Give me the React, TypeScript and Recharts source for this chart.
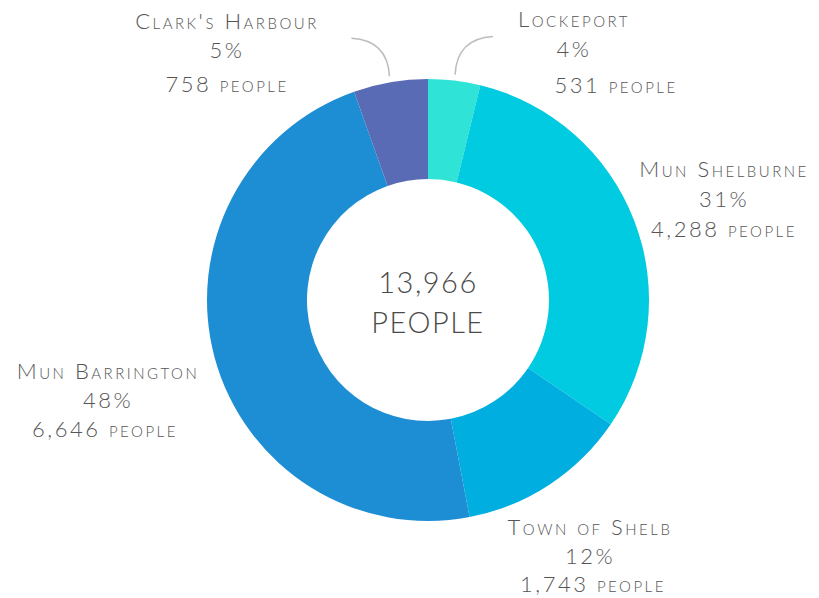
import { Cell, Pie, PieChart } from "recharts";

const towns = ["Lockeport", "Mun Shelburne", "Town of Shelb", "Mun Barrington", "Clark's Harbour"];
const people = [531, 4288, 1743, 6646, 758];
const colors = ["#2fe4d7", "#00cbe0", "#00aee0", "#1e8ed4", "#5a6bb5"];

// label placement relative to the donut centre: [x, y of first baseline, gap2, gap3, dx of last line]
const labelLayout = [
    [146, -273, 30, 66, 42],
    [296, -123, 30, 60, 0],
    [162, 235, 29, 57, 3],
    [-320, 79, 29, 58, -3],
    [-201, -271, 29, 63, 0],
];

const total = people.reduce((a, b) => a + b, 0);
const data = towns.map((name, i) => ({ name, value: people[i] }));

const RAD = Math.PI / 180;
const font = "Lato, 'Open Sans', sans-serif";
const CX = 428;
const CY = 300;

function renderLabel(props: any) {
    const { cx, cy, midAngle, outerRadius, index, value, name } = props;
    const [x, y, g2, g3, dx3] = labelLayout[index];
    const pct = Math.round((value / total) * 100);
    const lx = Number(cx) + x;
    const ly = Number(cy) + y;
    let line = null;
    if (value / total < 0.06) {
        const r = Number(outerRadius) + 6;
        const sx = Number(cx) + r * Math.cos(-midAngle * RAD);
        const sy = Number(cy) + r * Math.sin(-midAngle * RAD);
        const dir = sx < Number(cx) ? -1 : 1;
        const ex = sx + dir * 38;
        const ey = sy - 38;
        line = (
            <path
                d={`M${sx},${sy} Q${sx + dir * 2},${ey + 2} ${ex},${ey}`}
                fill="none"
                stroke="#bdbdbd"
                strokeWidth={1.5}
            />
        );
    }
    const textProps = {
        textAnchor: "middle" as const,
        fill: "#555",
        fontFamily: font,
        fontWeight: 300,
        fontSize: 22,
        letterSpacing: 2.5,
        style: { fontVariant: "small-caps" },
    };
    return (
        <g>
            {line}
            <text x={lx} y={ly} {...textProps}>{name}</text>
            <text x={lx} y={ly + g2} {...textProps}>{pct}%</text>
            <text x={lx + dx3} y={ly + g3} {...textProps}>
                {value.toLocaleString("en-US")} people
            </text>
        </g>
    );
}

const centerStyle = {
    textAnchor: "middle" as const,
    fill: "#4a4a4a",
    fontFamily: font,
    fontWeight: 300,
    fontSize: 29,
    letterSpacing: 1.5,
};

export default function App() {
    return (
        <div style={{ width: 819, height: 598, background: "#fff" }}>
            <style>{"body{margin:0}"}</style>
            <PieChart width={819} height={598} margin={{ top: 0, right: 0, bottom: 0, left: 0 }}>
                <Pie
                    data={data}
                    dataKey="value"
                    nameKey="name"
                    cx={CX}
                    cy={CY}
                    innerRadius={121}
                    outerRadius={221}
                    startAngle={90}
                    endAngle={-270}
                    stroke="none"
                    label={renderLabel}
                    labelLine={false}
                    isAnimationActive={false}
                >
                    {data.map((d, i) => (
                        <Cell key={d.name} fill={colors[i]} />
                    ))}
                </Pie>
                <text x={CX} y={CY - 7} {...centerStyle}>{total.toLocaleString("en-US")}</text>
                <text x={CX} y={CY + 33} {...centerStyle}>PEOPLE</text>
            </PieChart>
        </div>
    );
}
